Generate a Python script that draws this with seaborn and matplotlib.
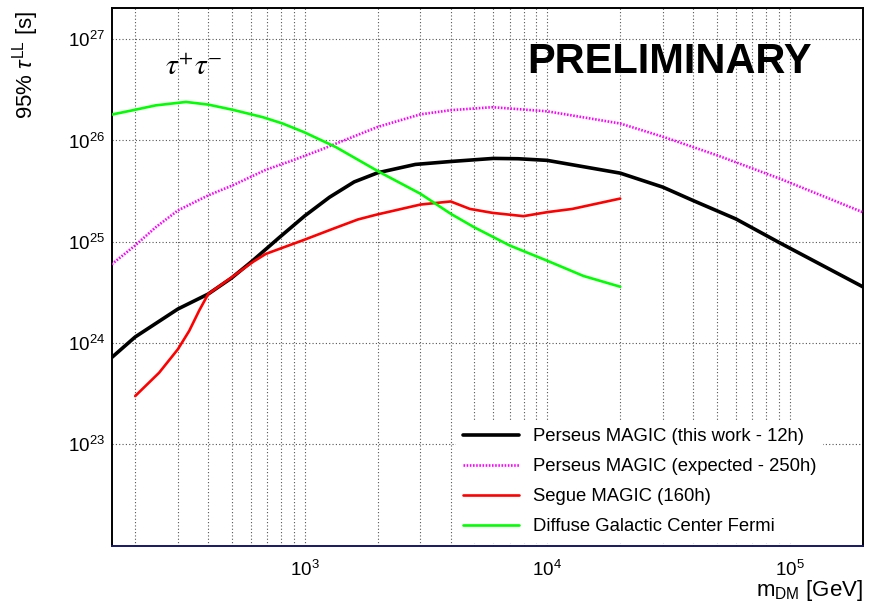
import matplotlib
matplotlib.use("Agg")
import matplotlib.pyplot as plt
import matplotlib.ticker as mticker
import seaborn as sns
import pandas as pd

# ---------------- data ----------------
m_perseus = [160, 200, 300, 400, 500, 610, 785, 1000, 1265, 1600, 2000, 2860,
             4000, 6000, 7600, 10000, 20000, 30000, 40000, 60000, 90000, 200000]
tau_perseus = [7.2e23, 1.15e24, 2.17e24, 3.05e24, 4.4e24, 6.5e24, 1.1e25, 1.8e25,
               2.75e25, 3.9e25, 4.8e25, 5.8e25, 6.2e25, 6.65e25, 6.6e25, 6.36e25,
               4.76e25, 3.46e25, 2.55e25, 1.68e25, 9.9e24, 3.6e24]

m_expected = [160, 200, 243, 300, 400, 504, 692, 892, 1150, 1344, 2000, 3000,
              4000, 5940, 10000, 20000, 30300, 50500, 91000, 200000]
tau_expected = [6.0e24, 9.2e24, 1.39e25, 2.04e25, 2.87e25, 3.6e25, 5.14e25, 6.36e25,
                8.0e25, 9.3e25, 1.36e26, 1.81e26, 1.99e26, 2.13e26, 1.94e26, 1.47e26,
                1.08e26, 7.1e25, 4.2e25, 1.96e25]

m_segue = [200, 251, 300, 334, 367, 400, 500, 610, 692, 1000, 1305, 1657, 1973,
           3000, 4000, 4800, 5940, 7980, 10000, 12700, 20000]
tau_segue = [3.0e23, 5.1e23, 8.7e23, 1.32e24, 2.09e24, 3.05e24, 4.46e24, 6.3e24,
             7.6e24, 1.05e25, 1.34e25, 1.66e25, 1.85e25, 2.33e25, 2.5e25, 2.11e25,
             1.93e25, 1.79e25, 1.96e25, 2.11e25, 2.67e25]

m_fermi = [160, 200, 243, 324, 400, 504, 670, 811, 1000, 1344, 2036, 3000, 4000,
           5000, 7000, 10000, 14100, 20000]
tau_fermi = [1.8e26, 2.01e26, 2.22e26, 2.4e26, 2.26e26, 2.01e26, 1.7e26, 1.47e26,
             1.2e26, 8.6e25, 4.87e25, 2.98e25, 1.89e25, 1.39e25, 9.2e24, 6.5e24,
             4.6e24, 3.6e24]

labels = ["Perseus MAGIC (this work - 12h)",
          "Perseus MAGIC (expected - 250h)",
          "Segue MAGIC (160h)",
          "Diffuse Galactic Center Fermi"]

# ---------------- style ----------------
sns.set_style("white")
plt.rcParams["font.family"] = ["Liberation Sans", "DejaVu Sans"]
plt.rcParams["mathtext.fontset"] = "custom"
plt.rcParams["mathtext.rm"] = "Liberation Sans"
plt.rcParams["mathtext.it"] = "Liberation Sans:italic"
plt.rcParams["mathtext.bf"] = "Liberation Sans:bold"
for k in ["text.color", "axes.labelcolor", "xtick.color", "ytick.color"]:
    plt.rcParams[k] = "black"

fig = plt.figure(figsize=(8.69, 6.03), dpi=100)
ax = fig.add_axes([0.12854, 0.09502, 0.86421, 0.89171])

series = [
    (m_perseus, tau_perseus, labels[0], "#000000", "-", 2.6),
    (m_expected, tau_expected, labels[1], "#ff00ff", (0, (0.6, 0.6)), 1.9),
    (m_segue, tau_segue, labels[2], "#ff0000", "-", 1.9),
    (m_fermi, tau_fermi, labels[3], "#00ff00", "-", 1.9),
]
for m, t, lab, col, ls, lw in series:
    df = pd.DataFrame({"m": m, "tau": t})
    sns.lineplot(data=df, x="m", y="tau", ax=ax, color=col, linestyle=ls,
                 linewidth=lw, label=lab, sort=False, zorder=3)

ax.set_xscale("log")
ax.set_yscale("log")
ax.set_xlim(160, 2.0e5)
ax.set_ylim(1e22, 2.03e27)

# ticks
ax.xaxis.set_major_locator(mticker.LogLocator(base=10, numticks=20))
ax.xaxis.set_minor_locator(mticker.LogLocator(base=10, subs=range(2, 10), numticks=20))
ax.yaxis.set_major_locator(mticker.LogLocator(base=10, numticks=20))
ax.yaxis.set_minor_locator(mticker.LogLocator(base=10, subs=range(2, 10), numticks=20))
ax.xaxis.set_minor_formatter(mticker.NullFormatter())
ax.yaxis.set_minor_formatter(mticker.NullFormatter())
ax.xaxis.set_major_formatter(mticker.LogFormatterSciNotation())
_sci = mticker.LogFormatterSciNotation()


def _yfmt(v, pos=None):
    if v < 5e22:
        return ""
    return _sci(v, pos)


ax.yaxis.set_major_formatter(mticker.FuncFormatter(_yfmt))

ax.tick_params(which="both", direction="in", top=False, right=False,
               colors="black", width=0.8, labelsize=13.5)
ax.tick_params(axis="x", which="major", length=16, pad=10)
ax.tick_params(axis="x", which="minor", length=7.2)
ax.tick_params(axis="y", which="major", length=22.5, pad=5)
ax.tick_params(axis="y", which="minor", length=12.2)

# grid
ax.grid(True, which="major", axis="both", color="#555555", linestyle=(0, (1, 2)),
        linewidth=0.8)
ax.grid(True, which="minor", axis="x", color="#555555", linestyle=(0, (1, 2)),
        linewidth=0.8)
ax.set_axisbelow(True)

for s in ["left", "top", "right"]:
    ax.spines[s].set_color("black")
    ax.spines[s].set_linewidth(1.4)
ax.spines["bottom"].set_color("#16166e")
ax.spines["bottom"].set_linewidth(1.4)

# labels
ax.set_xlabel(r"m$_{\mathrm{DM}}$ [GeV]", fontsize=16, loc="right")
ax.xaxis.set_label_coords(1.0, -0.06)
ax.set_ylabel(r"95% $\tau^{\mathrm{LL}}$ [s]", fontsize=16, loc="top")
ax.yaxis.set_label_coords(-0.094, 0.995)

# annotations
ax.text(0.553, 0.879, "PRELIMINARY", transform=ax.transAxes, fontsize=30,
        fontweight="bold", color="black", ha="left", va="baseline", zorder=5)
ax.text(0.071, 0.875, r"$\tau^{+}\tau^{-}$", transform=ax.transAxes, fontsize=21,
        color="black", ha="left", va="baseline", math_fontfamily="stix", zorder=5)

# legend
leg = ax.legend(loc="upper left", bbox_to_anchor=(0.4583, 0.232),
                borderaxespad=0, frameon=True, fancybox=False, framealpha=1,
                facecolor="white", edgecolor="white", fontsize=13.3,
                handlelength=3.0, handletextpad=0.75, labelspacing=0.70,
                borderpad=0.4)
leg.get_frame().set_linewidth(0)
leg.set_zorder(4)

fig.savefig("out.png", dpi=100)
